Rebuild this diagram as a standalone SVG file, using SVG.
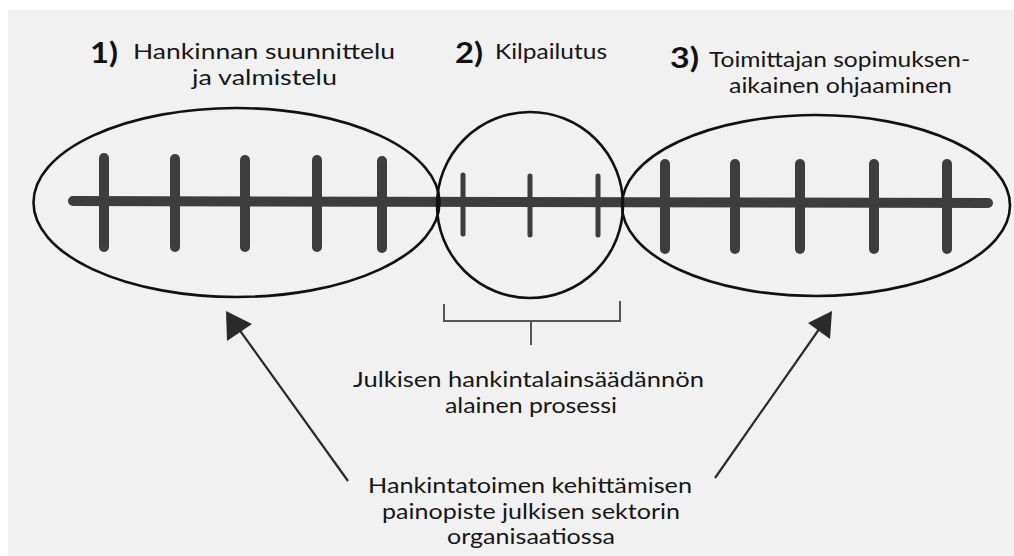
<svg xmlns="http://www.w3.org/2000/svg" width="1014" height="556" viewBox="0 0 1014 556">
<style>
.t{font-family:Lato,"Open Sans","Liberation Sans",sans-serif;font-size:21px;fill:#161616}
.n{font-family:Lato,"Open Sans","Liberation Sans",sans-serif;font-size:28px;font-weight:bold;fill:#111}
.ring{fill:none;stroke:#111;stroke-width:2.6}
.axis{stroke:#3d3d3d;stroke-linecap:round;fill:none}
.big{stroke-width:10}
.small{stroke-width:5}
.br{fill:none;stroke:#555;stroke-width:2}
.arr{stroke:#2a2a2a;stroke-width:2.2;fill:none}
</style>
<rect x="0" y="0" width="1014" height="556" fill="#ffffff"/>
<rect x="8" y="10" width="1006" height="546" fill="#f1f1f1"/>

<g id="timeline">
<line class="axis big" x1="73" y1="201" x2="988" y2="203"/>
<g class="axis big">
<line x1="104" y1="158" x2="104" y2="247"/>
<line x1="175" y1="159" x2="175" y2="247"/>
<line x1="245" y1="160" x2="245" y2="247"/>
<line x1="317" y1="160" x2="317" y2="247"/>
<line x1="382" y1="161" x2="382" y2="248"/>
<line x1="665" y1="164" x2="665" y2="249"/>
<line x1="735" y1="164" x2="735" y2="249"/>
<line x1="800" y1="164" x2="800" y2="249"/>
<line x1="874" y1="164" x2="874" y2="249"/>
<line x1="947" y1="164" x2="947" y2="249"/>
</g>
<g class="axis small">
<line x1="463" y1="175" x2="463" y2="234"/>
<line x1="530" y1="176" x2="530" y2="235"/>
<line x1="598" y1="176" x2="598" y2="235"/>
</g>
</g>

<g id="phase1">
<ellipse class="ring" cx="236.5" cy="202.5" rx="203" ry="94.5"/>
<text class="n" x="90" y="63" textLength="28" lengthAdjust="spacingAndGlyphs">1)</text>
<text class="t" x="133" y="58.5" textLength="262" lengthAdjust="spacingAndGlyphs">Hankinnan suunnittelu</text>
<text class="t" x="192" y="84.5" textLength="145" lengthAdjust="spacingAndGlyphs">ja valmistelu</text>
</g>

<g id="phase2">
<circle class="ring" cx="530" cy="205" r="93"/>
<text class="n" x="455" y="63" textLength="28" lengthAdjust="spacingAndGlyphs">2)</text>
<text class="t" x="495" y="59" textLength="112" lengthAdjust="spacingAndGlyphs">Kilpailutus</text>
</g>

<g id="phase3">
<ellipse class="ring" cx="816" cy="205.5" rx="194" ry="90.5"/>
<text class="n" x="670" y="68" textLength="29" lengthAdjust="spacingAndGlyphs">3)</text>
<text class="t" x="709" y="66.5" textLength="261" lengthAdjust="spacingAndGlyphs">Toimittajan sopimuksen-</text>
<text class="t" x="729" y="93" textLength="223" lengthAdjust="spacingAndGlyphs">aikainen ohjaaminen</text>
</g>

<g id="legal-scope">
<path class="br" d="M444,304 V321 H620 V301 M531,321 V345"/>
<text class="t" x="353" y="386.5" textLength="351" lengthAdjust="spacingAndGlyphs">Julkisen hankintalainsäädännön</text>
<text class="t" x="445" y="413" textLength="172" lengthAdjust="spacingAndGlyphs">alainen prosessi</text>
</g>

<g id="focus">
<text class="t" x="368" y="493" textLength="324" lengthAdjust="spacingAndGlyphs">Hankintatoimen kehittämisen</text>
<text class="t" x="382" y="518.5" textLength="298" lengthAdjust="spacingAndGlyphs">painopiste julkisen sektorin</text>
<text class="t" x="447" y="544" textLength="168" lengthAdjust="spacingAndGlyphs">organisaatiossa</text>
</g>

<g id="connectors">
<line class="arr" x1="348" y1="481" x2="228" y2="314"/>
<path d="M226,311 L227,341 L252,324 z" fill="#2a2a2a"/>
<line class="arr" x1="715" y1="478" x2="829" y2="315"/>
<path d="M832,311 L808,323 L830,339 z" fill="#2a2a2a"/>
</g>
</svg>
